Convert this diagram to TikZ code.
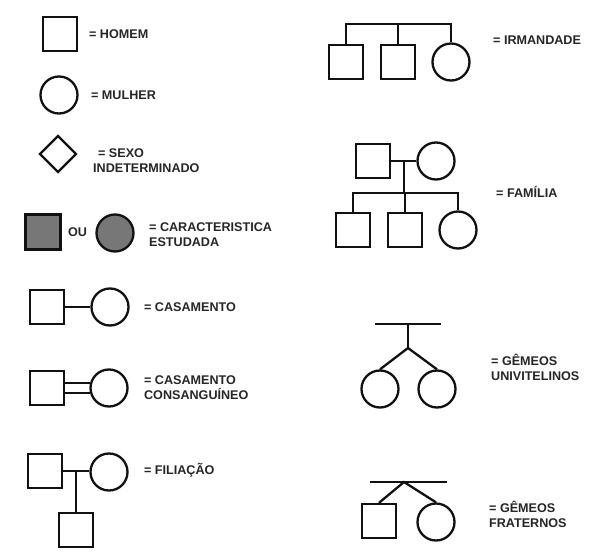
\documentclass[tikz,border=0pt]{standalone}
\usepackage{fontspec}
\setmainfont{Liberation Sans}
\usetikzlibrary{shapes.geometric,calc}
\definecolor{affgray}{HTML}{777777}
\definecolor{ink}{HTML}{111111}
\definecolor{txt}{HTML}{262626}
\begin{document}
\begin{tikzpicture}[x=1pt,y=-1pt,
  line width=2.3pt, draw=ink,
  sq/.style={draw=ink, rectangle, minimum size=34pt, inner sep=0pt},
  ci/.style={draw=ink, circle, minimum size=37pt, inner sep=0pt},
  dm/.style={draw=ink, diamond, minimum size=37pt, inner sep=0pt},
  aff/.style={fill=affgray},
  lbl/.style={anchor=west, inner sep=0pt, align=left, text=txt,
    font=\bfseries\fontsize{12.6}{15}\selectfont}
]
\useasboundingbox[fill=white] (0,0) rectangle (600,554);

% ---- left column legend ----
\node[sq] (homem) at (60,34) {};
\node[lbl] (thomem) at (88,34) {= HOMEM};

\node[ci] (mulher) at (59,95) {};
\node[lbl] (tmulher) at (90,95) {= MULHER};

\node[dm] (sexo) at (58,154) {};
\node[lbl] (tsexo) at (92,161) {\hspace{5pt}= SEXO\\INDETERMINADO};

\node[sq, aff, minimum size=35pt] (afsq) at (43,232) {};
\node[lbl] (tou) at (67,232) {OU};
\node[ci, aff] (afci) at (115,233) {};
\node[lbl] (tafet) at (148,235) {= CARACTERISTICA\\ESTUDADA};

% casamento
\node[sq] (ch) at (47,307) {};
\node[ci] (cw) at (110,307) {};
\draw (ch.east) -- (cw.west);
\node[lbl] (tcas) at (143,307) {= CASAMENTO};

% casamento consanguineo
\node[sq] (kh) at (47,388) {};
\node[ci] (kw) at (109,388) {};
\draw (kh.east |- kw.166) -- (kw.166);
\draw (kh.east |- kw.194) -- (kw.194);
\node[lbl] (tkas) at (143,388) {= CASAMENTO\\CONSANGUÍNEO};

% filiacao
\node[sq] (fh) at (45,471) {};
\node[ci] (fw) at (109,472) {};
\node[sq] (fc) at (76,530) {};
\draw (fh.east) -- (fw.west |- fh.east);
\draw (fc.north) -- (fc.north |- fh.east);
\node[lbl] (tfil) at (143,470) {= FILIAÇÃO};

% ---- right column ----
% irmandade
\node[sq] (i1) at (346,62) {};
\node[sq] (i2) at (398,62) {};
\node[ci] (i3) at (451,62) {};
\coordinate (ib) at (0,24);
\draw (i1.north) -- (i1.north |- ib) -| (i3.north);
\draw (i2.north) -- (i2.north |- ib);
\node[lbl] (tirm) at (492,40) {= IRMANDADE};

% familia
\node[sq] (pf) at (373,161) {};
\node[ci] (pm) at (436,161) {};
\draw (pf.east) -- (pm.west);
\coordinate (pmid) at ($(pf.east)!0.5!(pm.west)$);
\node[sq] (c1) at (353,230) {};
\node[sq] (c2) at (405,230) {};
\node[ci] (c3) at (458,230) {};
\coordinate (fs) at (0,193);
\draw (pmid) -- (pmid |- fs);
\draw (c1.north) -- (c1.north |- fs) -| (c3.north);
\draw (c2.north) -- (c2.north |- fs);
\node[lbl] (tfam) at (495,192) {= FAMÍLIA};

% gemeos univitelinos
\node[ci] (u1) at (380,389) {};
\node[ci] (u2) at (437,389) {};
\coordinate (uj) at (408,348);
\coordinate (ut) at (408,324);
\coordinate (ul) at (375,324);
\coordinate (ur) at (441,324);
\draw (ul) -- (ur);
\draw (ut) -- (uj);
\draw (u1.north) -- (uj) -- (u2.north);
\node[lbl] (tuni) at (490,367) {= GÊMEOS\\UNIVITELINOS};

% gemeos fraternos
\node[sq] (g1) at (379,521) {};
\node[ci] (g2) at (436,522) {};
\coordinate (gj) at (404,482);
\coordinate (gl) at (370,482);
\coordinate (gr) at (447,482);
\draw (gl) -- (gr);
\draw (g1.north) -- (gj) -- (g2.north);
\node[lbl] (tfra) at (488,514) {= GÊMEOS\\FRATERNOS};
\end{tikzpicture}
\end{document}
